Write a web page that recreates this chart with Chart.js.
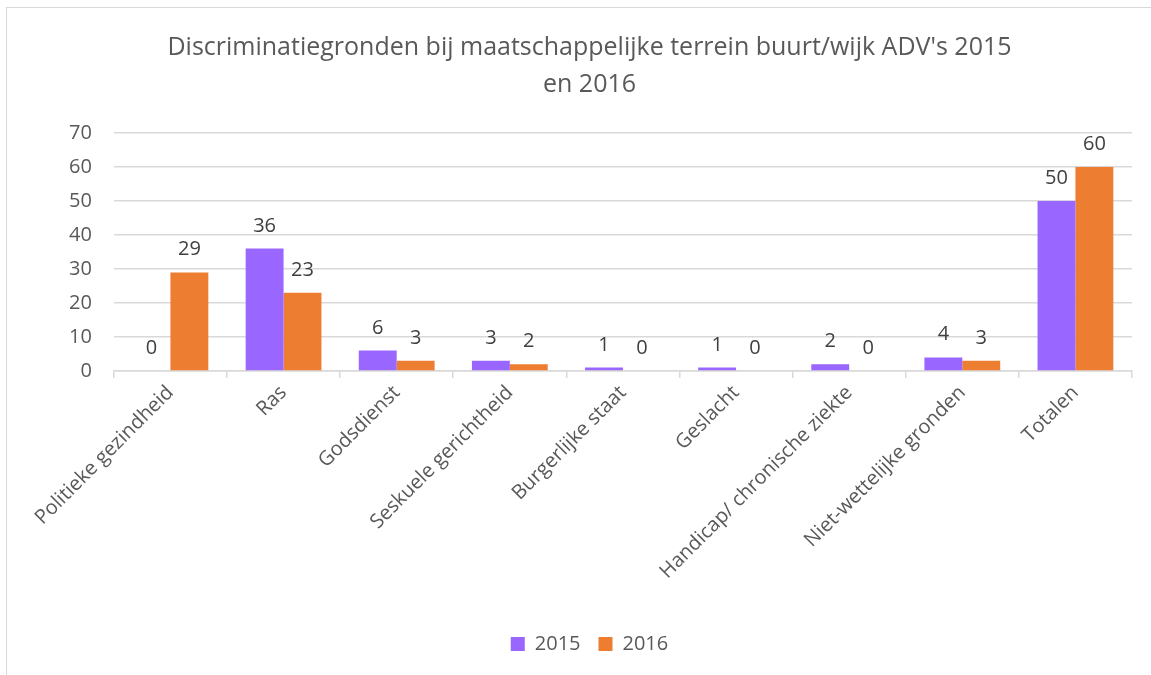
<!DOCTYPE html>
<html>
<head>
<meta charset="utf-8">
<script src="https://cdn.jsdelivr.net/npm/chart.js@4"></script>
<style>
  html, body { margin: 0; padding: 0; background: #fff; overflow: hidden; }
  #frame {
    position: absolute; left: 6px; top: 7px;
    width: 1170px; height: 700px;
    border: 1.5px solid #d9d9d9;
    background: #fff;
  }
  #wrap { position: absolute; left: 0; top: 0; width: 1145px; height: 668px; }
</style>
</head>
<body>
<div id="frame"><div id="wrap"><canvas id="myChart1"></canvas></div></div>
<script>
// data
const categories = [
  'Politieke gezindheid', 'Ras', 'Godsdienst', 'Seskuele gerichtheid',
  'Burgerlijke staat', 'Geslacht', 'Handicap/ chronische ziekte',
  'Niet-wettelijke gronden', 'Totalen'
];
const values2015 = [0, 36, 6, 3, 1, 1, 2, 4, 50];
const values2016 = [29, 23, 3, 2, 0, 0, 0, 3, 60];
const yTicks = [0, 10, 20, 30, 40, 50, 60, 70];

const fontName = "'Open Sans', 'Noto Sans', sans-serif";

// labels above bars (no datalabels plugin available)
const valueLabels = {
  id: 'valueLabels',
  afterDatasetsDraw(chart) {
    const ctx = chart.ctx;
    ctx.save();
    ctx.font = '20px ' + fontName;
    ctx.fillStyle = '#404040';
    ctx.textAlign = 'center';
    ctx.textBaseline = 'alphabetic';
    chart.data.datasets.forEach((ds, i) => {
      const meta = chart.getDatasetMeta(i);
      meta.data.forEach((bar, j) => {
        ctx.fillText(String(ds.data[j]), bar.x, bar.y - 17);
      });
    });
    ctx.restore();
  }
};

const canvas = document.getElementById('myChart1');

if (canvas) {
  const ctx1 = canvas.getContext('2d');

  new Chart(ctx1, {
    type: 'bar',
    data: {
      labels: categories,
      datasets: [{
        label: '2015',
        data: values2015,
        backgroundColor: '#9966ff'
      }, {
        label: '2016',
        data: values2016,
        backgroundColor: '#ed7d31'
      }]
    },
    options: {
      responsive: true,
      maintainAspectRatio: false,
      animation: false,
      categoryPercentage: 0.67,
      barPercentage: 1.0,
      layout: {
        padding: { left: 40, right: 20, top: 0, bottom: 12 }
      },
      scales: {
        x: {
          grid: {
            display: true,
            drawOnChartArea: false,
            drawTicks: true,
            tickLength: 7,
            color: '#d9d9d9',
            lineWidth: 1.5
          },
          border: { display: true, color: '#d9d9d9', width: 1.5 },
          ticks: {
            color: '#595959',
            minRotation: 45,
            maxRotation: 45,
            padding: 3,
            autoSkip: false,
            font: { family: fontName, size: 20 }
          },
          afterFit(scale) { scale.height = 245; }
        },
        y: {
          min: 0,
          max: 70,
          afterBuildTicks(scale) { scale.ticks = yTicks.map(v => ({ value: v })); },
          grid: {
            color: '#d9d9d9',
            lineWidth: 1.5,
            drawTicks: false
          },
          border: { display: false },
          ticks: {
            color: '#595959',
            padding: 22,
            font: { family: fontName, size: 20 }
          }
        }
      },
      plugins: {
        title: {
          display: true,
          text: ["Discriminatiegronden bij maatschappelijke terrein buurt/wijk ADV's 2015", 'en 2016'],
          color: '#595959',
          font: { family: fontName, size: 25, weight: 'normal', lineHeight: 1.48 },
          padding: { top: 21, bottom: 30 }
        },
        legend: {
          position: 'bottom',
          labels: {
            color: '#595959',
            boxWidth: 14,
            boxHeight: 14,
            padding: 18,
            font: { family: fontName, size: 20 }
          }
        },
        tooltip: { enabled: false }
      }
    },
    plugins: [valueLabels]
  });
} else {
  console.error("Canvas element with id 'myChart1' not found.");
}
</script>
</body>
</html>
